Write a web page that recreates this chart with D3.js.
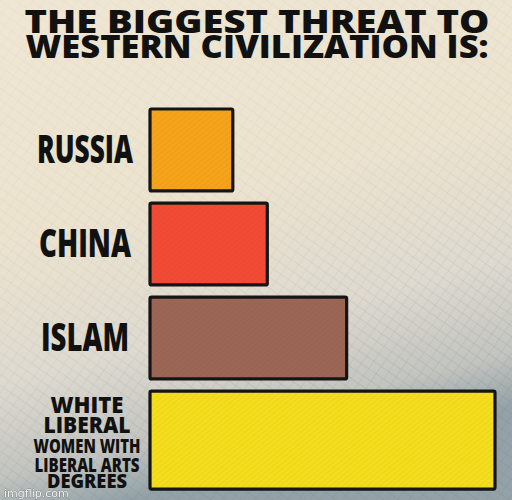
<!DOCTYPE html>
<html>
<head>
<meta charset="utf-8">
<script src="https://cdn.jsdelivr.net/npm/d3@7"></script>
<style>
  html, body { margin: 0; padding: 0; background: #ece3cf; }
  svg { display: block; }
</style>
</head>
<body>
<div id="chart"></div>
<script>
// chart data
var titleLines = ["THE BIGGEST THREAT TO", "WESTERN CIVILIZATION IS:"];
var categories = ["RUSSIA", "CHINA", "ISLAM", "WHITE LIBERAL WOMEN WITH LIBERAL ARTS DEGREES"];
var labelLines = [["RUSSIA"], ["CHINA"], ["ISLAM"], ["WHITE", "LIBERAL", "WOMEN WITH", "LIBERAL ARTS", "DEGREES"]];
var threatValues = [24, 34, 57, 100];
var barColors = ["#f5a31a", "#f24b35", "#9c6655", "#f4dd1c"];

(function () {
    "use strict";
    var width = 512,
        height = 500,
        svg,
        defs,
        bg,
        hatch,
        fade,
        xScale,
        yScale,
        rows;

    svg = d3.select("#chart").append("svg")
        .attr("width", width)
        .attr("height", height);

    defs = svg.append("defs");

    //paper colour, going grey-blue at the bottom
    bg = defs.append("linearGradient")
        .attr("id", "paper")
        .attr("x1", 0).attr("y1", 0)
        .attr("x2", 0.25).attr("y2", 1);
    [["0%", "#efe6d3"], ["45%", "#ece3cf"], ["72%", "#dedad0"], ["90%", "#c2c4c0"], ["100%", "#93a2a8"]]
        .forEach(function (s) {
            bg.append("stop").attr("offset", s[0]).attr("stop-color", s[1]);
        });

    //pencil crosshatch for the background
    hatch = defs.append("pattern")
        .attr("id", "hatch")
        .attr("width", 9).attr("height", 9)
        .attr("patternUnits", "userSpaceOnUse")
        .attr("patternTransform", "rotate(35)");
    hatch.append("line").attr("x1", 0).attr("y1", 0).attr("x2", 9).attr("y2", 0)
        .attr("stroke", "#7d7a72").attr("stroke-width", 0.8);
    hatch.append("line").attr("x1", 0).attr("y1", 0).attr("x2", 0).attr("y2", 9)
        .attr("stroke", "#7d7a72").attr("stroke-width", 0.6);

    //faint diagonal strokes inside the bars
    defs.append("pattern")
        .attr("id", "barStroke")
        .attr("width", 4).attr("height", 4)
        .attr("patternUnits", "userSpaceOnUse")
        .attr("patternTransform", "rotate(-40)")
        .append("line")
        .attr("x1", 0).attr("y1", 0).attr("x2", 4).attr("y2", 0)
        .attr("stroke", "#000").attr("stroke-opacity", 0.07).attr("stroke-width", 1);

    fade = defs.append("linearGradient")
        .attr("id", "hatchFade")
        .attr("x1", 0).attr("y1", 0).attr("x2", 0.4).attr("y2", 1);
    fade.append("stop").attr("offset", "0%").attr("stop-color", "#fff").attr("stop-opacity", 0.15);
    fade.append("stop").attr("offset", "55%").attr("stop-color", "#fff").attr("stop-opacity", 0.3);
    fade.append("stop").attr("offset", "100%").attr("stop-color", "#fff").attr("stop-opacity", 0.75);
    defs.append("mask").attr("id", "hatchMask")
        .append("rect").attr("width", width).attr("height", height).attr("fill", "url(#hatchFade)");

    svg.append("rect").attr("width", width).attr("height", height).attr("fill", "url(#paper)");
    svg.append("rect").attr("width", width).attr("height", height)
        .attr("fill", "url(#hatch)").attr("mask", "url(#hatchMask)").attr("opacity", 0.6);

    //title, one text element with a tspan per line
    svg.append("text")
        .attr("text-anchor", "middle")
        .style("font-family", "'Open Sans', 'DejaVu Sans', sans-serif")
        .style("font-weight", 800)
        .style("font-size", "32px")
        .style("fill", "#111")
        .selectAll("tspan")
        .data(titleLines)
        .join("tspan")
        .attr("x", 257)
        .attr("y", function (d, i) { return 33 + i * 25; })
        .attr("textLength", function (d, i) { return i === 0 ? 465 : 463; })
        .attr("lengthAdjust", "spacingAndGlyphs")
        .text(function (d) { return d; });

    //scales
    xScale = d3.scaleLinear().domain([0, 100]).range([150, 495]);
    yScale = d3.scaleBand().domain(categories).range([109, 471]).paddingInner(0.15).paddingOuter(0);

    function barHeight(d, i) {
        //long multi-line label gets a taller bar
        return labelLines[i].length > 1 ? 98 : yScale.bandwidth() + 2;
    }

    rows = svg.append("g").selectAll("g")
        .data(categories)
        .join("g");

    rows.append("rect")
        .attr("x", xScale(0))
        .attr("y", function (d) { return yScale(d); })
        .attr("width", function (d, i) { return xScale(threatValues[i]) - xScale(0); })
        .attr("height", barHeight)
        .attr("fill", function (d, i) { return barColors[i]; })
        .attr("stroke", "#151515")
        .attr("stroke-width", 3.2)
        .attr("rx", 1.5);

    rows.append("rect")
        .attr("x", xScale(0) + 2)
        .attr("y", function (d) { return yScale(d) + 2; })
        .attr("width", function (d, i) { return xScale(threatValues[i]) - xScale(0) - 4; })
        .attr("height", function (d, i) { return barHeight(d, i) - 4; })
        .attr("fill", "url(#barStroke)");

    //category labels
    var singleWidths = { "RUSSIA": 96, "CHINA": 92, "ISLAM": 88 },
        multiSizes = [22, 23, 19.5, 20, 19],
        multiWidths = [73, 87, 107, 105, 80],
        multiBase = [413, 433, 453, 472, 488];

    rows.each(function (d, i) {
        var lines = labelLines[i],
            mid = yScale(d) + yScale.bandwidth() / 2,
            multi = lines.length > 1;

        d3.select(this).append("text")
            .attr("text-anchor", "middle")
            .style("font-family", "'Open Sans', 'DejaVu Sans', sans-serif")
            .style("font-weight", 800)
            .style("fill", "#111")
            .selectAll("tspan")
            .data(lines)
            .join("tspan")
            .attr("x", multi ? 87 : 85)
            .attr("y", function (t, j) { return multi ? multiBase[j] : mid + 14; })
            .attr("textLength", function (t, j) { return multi ? multiWidths[j] : singleWidths[t]; })
            .attr("lengthAdjust", "spacingAndGlyphs")
            .style("font-size", function (t, j) { return multi ? multiSizes[j] + "px" : "39px"; })
            .text(function (t) { return t; });
    });

    //watermark
    svg.append("text")
        .attr("x", 4)
        .attr("y", 497)
        .style("font-family", "'DejaVu Sans', sans-serif")
        .style("font-size", "11px")
        .style("fill", "#fff")
        .style("stroke", "#555")
        .style("stroke-width", 0.5)
        .style("paint-order", "stroke")
        .style("opacity", 0.85)
        .text("imgflip.com");
}());
</script>
</body>
</html>
